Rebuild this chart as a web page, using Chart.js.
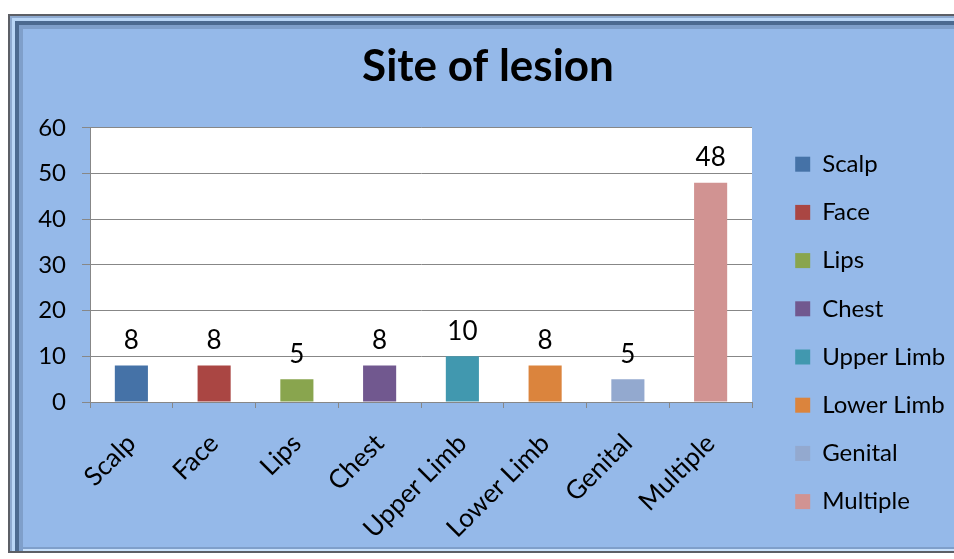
<!DOCTYPE html>
<html>
<head>
<meta charset="utf-8">
<script src="https://cdn.jsdelivr.net/npm/chart.js@4/dist/chart.umd.min.js"></script>
<style>
  body { margin: 0; background: #fff; width: 954px; height: 559px; overflow: hidden; position: relative; }
  .frame {
    position: absolute; left: 8px; top: 14px; width: 990px; height: 535px;
    background: #95b9e9;
    border: 2px solid #5c5f66;
    box-shadow: inset 2px 2px 0 #8eaad0, inset 5px 5px 0 #b9d6f6, inset 9px 9px 0 #4c6a90,
                inset 13px 13px 0 #7f9fca, inset 0 -2px 0 #c9e1fb, inset 0 -4px 0 #7f9fca;
  }
  #wrap { position: absolute; left: 22px; top: 28px; width: 932px; height: 517px; }
</style>
</head>
<body>
<div class="frame"></div>
<div id="wrap"><canvas id="myChart" width="932" height="517"></canvas></div>
<script>
// dados do gráfico
var sitios  = ['Scalp', 'Face', 'Lips', 'Chest', 'Upper Limb', 'Lower Limb', 'Genital', 'Multiple'];
var valores = [8, 8, 5, 8, 10, 8, 5, 48];
var cores   = ['#4572a7', '#aa4643', '#89a54e', '#71588f', '#4198af', '#db843d', '#93a9cf', '#d19392'];
var ticksY  = [0, 10, 20, 30, 40, 50, 60];

var fonte = 'Lato, "Open Sans", sans-serif';

// fundo branco da área do gráfico
var fundoArea = {
  id: 'fundoArea',
  beforeDraw: function(chart) {
    var a = chart.chartArea, ctx = chart.ctx;
    ctx.save();
    ctx.fillStyle = '#ffffff';
    ctx.fillRect(a.left, a.top, a.right - a.left, a.bottom - a.top);
    ctx.restore();
  }
};

// largura fixa da legenda
var larguraLegenda = {
  id: 'larguraLegenda',
  beforeLayout: function(chart) {
    var lg = chart.legend;
    if (lg && !lg._fixo) {
      var fitOriginal = lg.fit;
      lg.fit = function() {
        fitOriginal.call(this);
        this.width = 183;
      };
      lg._fixo = true;
    }
  }
};

// rótulos com os valores acima das barras
var rotulos = {
  id: 'rotulos',
  afterDatasetsDraw: function(chart) {
    var ctx = chart.ctx;
    var meta = chart.getDatasetMeta(0);
    ctx.save();
    ctx.font = '26px ' + fonte;
    ctx.fillStyle = '#000';
    ctx.textAlign = 'center';
    ctx.textBaseline = 'bottom';
    meta.data.forEach(function(bar, i) {
      ctx.fillText(String(valores[i]), bar.x, bar.y - 12);
    });
    ctx.restore();
  }
};

var ctx = document.getElementById('myChart').getContext('2d');
var myChart = new Chart(ctx, {
  type: 'bar',
  data: {
    labels: sitios,
    datasets: [{
      label: 'Site of lesion',
      data: valores,
      backgroundColor: cores,
      borderWidth: 0,
      categoryPercentage: 1,
      barPercentage: 0.4
    }]
  },
  options: {
    responsive: false,
    animation: false,
    layout: { padding: 0 },
    plugins: {
      title: {
        display: true,
        text: 'Site of lesion',
        color: '#000',
        font: { family: fonte, size: 44, weight: 'bold', lineHeight: 1.2 },
        padding: { top: 12, bottom: 35 }
      },
      legend: {
        position: 'right',
        align: 'start',
        title: { display: true, text: '', font: { size: 10, lineHeight: 1.2 }, padding: { top: 88, bottom: 0 } },
        labels: {
          boxWidth: 15,
          boxHeight: 15,
          padding: 24.2,
          color: '#000',
          font: { family: fonte, size: 24 },
          generateLabels: function() {
            return sitios.map(function(s, i) {
              return { text: s, fillStyle: cores[i], strokeStyle: cores[i], fontColor: '#000', lineWidth: 0, hidden: false, index: i };
            });
          }
        }
      },
      tooltip: { enabled: false }
    },
    scales: {
      x: {
        grid: { offset: true, drawOnChartArea: false, drawTicks: true, tickLength: 6, color: '#878787' },
        border: { color: '#878787', width: 1 },
        ticks: { color: '#000', font: { family: fonte, size: 26 }, minRotation: 45, maxRotation: 45, padding: 20 },
        afterFit: function(scale) { scale.height = 143; }
      },
      y: {
        min: 0,
        max: 60,
        afterBuildTicks: function(scale) {
          scale.ticks = ticksY.map(function(v) { return { value: v }; });
        },
        grid: { color: '#878787', tickLength: 8, lineWidth: 1 },
        border: { color: '#878787', width: 1 },
        ticks: { color: '#000', font: { family: fonte, size: 24 }, padding: 16 },
        afterFit: function(scale) { scale.width = 68; }
      },
      // eixo vazio só para afastar a legenda
      y2: {
        type: 'linear',
        position: 'right',
        display: true,
        grid: { display: false },
        border: { display: false },
        ticks: { display: false },
        afterFit: function(scale) { scale.width = 19; }
      }
    }
  },
  plugins: [fundoArea, larguraLegenda, rotulos]
});
</script>
</body>
</html>
